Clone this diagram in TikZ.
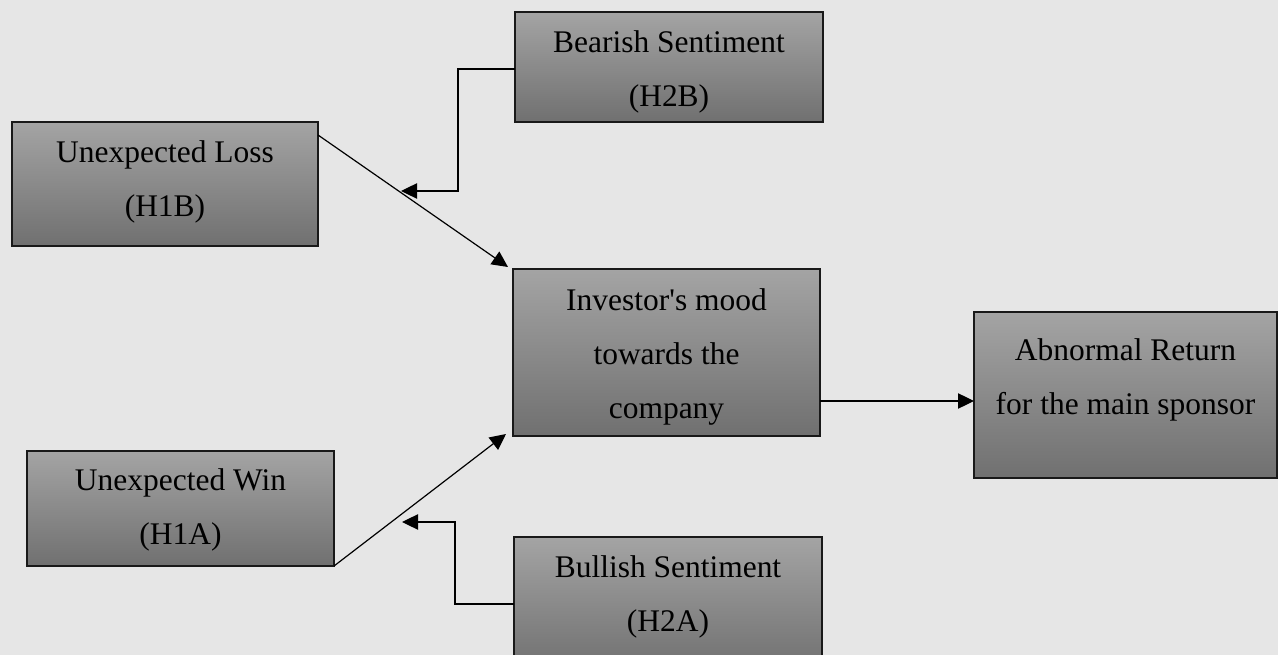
\documentclass[tikz,border=0pt]{standalone}
\usepackage{fontspec}
\setmainfont{Liberation Serif}
\usetikzlibrary{arrows.meta,calc}
\definecolor{bg}{RGB}{230,230,230}
\definecolor{boxtop}{RGB}{164,164,164}
\definecolor{boxbot}{RGB}{112,112,112}
\definecolor{edgecol}{RGB}{25,25,25}
\begin{document}
\begin{tikzpicture}[x=0.75pt,y=-0.75pt,
  box/.style={draw=edgecol, line width=0.9pt, top color=boxtop, bottom color=boxbot,
    inner sep=0pt, outer sep=0pt, anchor=north west},
  txt/.style={anchor=north, align=center, inner sep=0pt,
    font=\fontsize{23.6}{40.5}\selectfont},
  conn/.style={draw=black, line width=0.9pt},
  arr/.style={conn, -{Triangle[length=12pt,width=11.5pt]}}]
\useasboundingbox (0,0) rectangle (1278,655);
\clip (0,0) rectangle (1278,655);
\fill[bg] (0,0) rectangle (1278,655);
% boxes
\node[box, minimum width=229.5pt, minimum height=93pt]    (h1b) at (12,122) {};
\node[box, minimum width=231pt,   minimum height=82.5pt]  (h2b) at (515,12) {};
\node[box, minimum width=230.25pt,minimum height=125.25pt](inv) at (513,269) {};
\node[box, minimum width=227.25pt,minimum height=124.5pt] (abn) at (974,312) {};
\node[box, minimum width=230.25pt,minimum height=86.25pt] (h1a) at (27,451) {};
\node[box, minimum width=231pt,   minimum height=100.5pt] (h2a) at (514,537) {};
% texts
\newcommand{\firstline}{\rule{0pt}{0.8em}}
\node[txt] (t1b) at ($(h1b.north)+(0,15)$) {\firstline Unexpected Loss\\(H1B)};
\node[txt] (t2b) at ($(h2b.north)+(0,15)$) {\firstline Bearish Sentiment\\(H2B)};
\node[txt] (tin) at ($(inv.north)+(0,16)$) {\firstline Investor\textquotesingle s mood\\towards the\\company};
\node[txt] (tab) at ($(abn.north)+(0,23)$) {\firstline Abnormal Return\\for the main sponsor};
\node[txt] (t1a) at ($(h1a.north)+(0,14)$) {\firstline Unexpected Win\\(H1A)};
\node[txt] (t2a) at ($(h2a.north)+(0,15)$) {\firstline Bullish Sentiment\\(H2A)};
% connectors
\coordinate (s1) at ($(h1b.north east)+(0,13)$);
\coordinate (e1) at ($(inv.north west)+(-5,-2)$);
\draw[arr] (s1) -- (e1);
\coordinate (e2) at ($(inv.south west)+(-7,-2)$);
\draw[arr] (h1a.south east) -- (e2);
\coordinate (bend1) at (458,191);
\coordinate (tip1) at (401,191);
\draw[arr] ($(h2b.west)+(0,2)$) -| (bend1) -- (tip1);
\coordinate (bend2) at (455,522);
\coordinate (tip2) at (402,522);
\draw[arr] (h2a.west) -| (bend2) -- (tip2);
\coordinate (o1) at ($(inv.south east)+(0,-35)$);
\draw[arr] (o1) -- (o1 -| abn.west);
\end{tikzpicture}
\end{document}
